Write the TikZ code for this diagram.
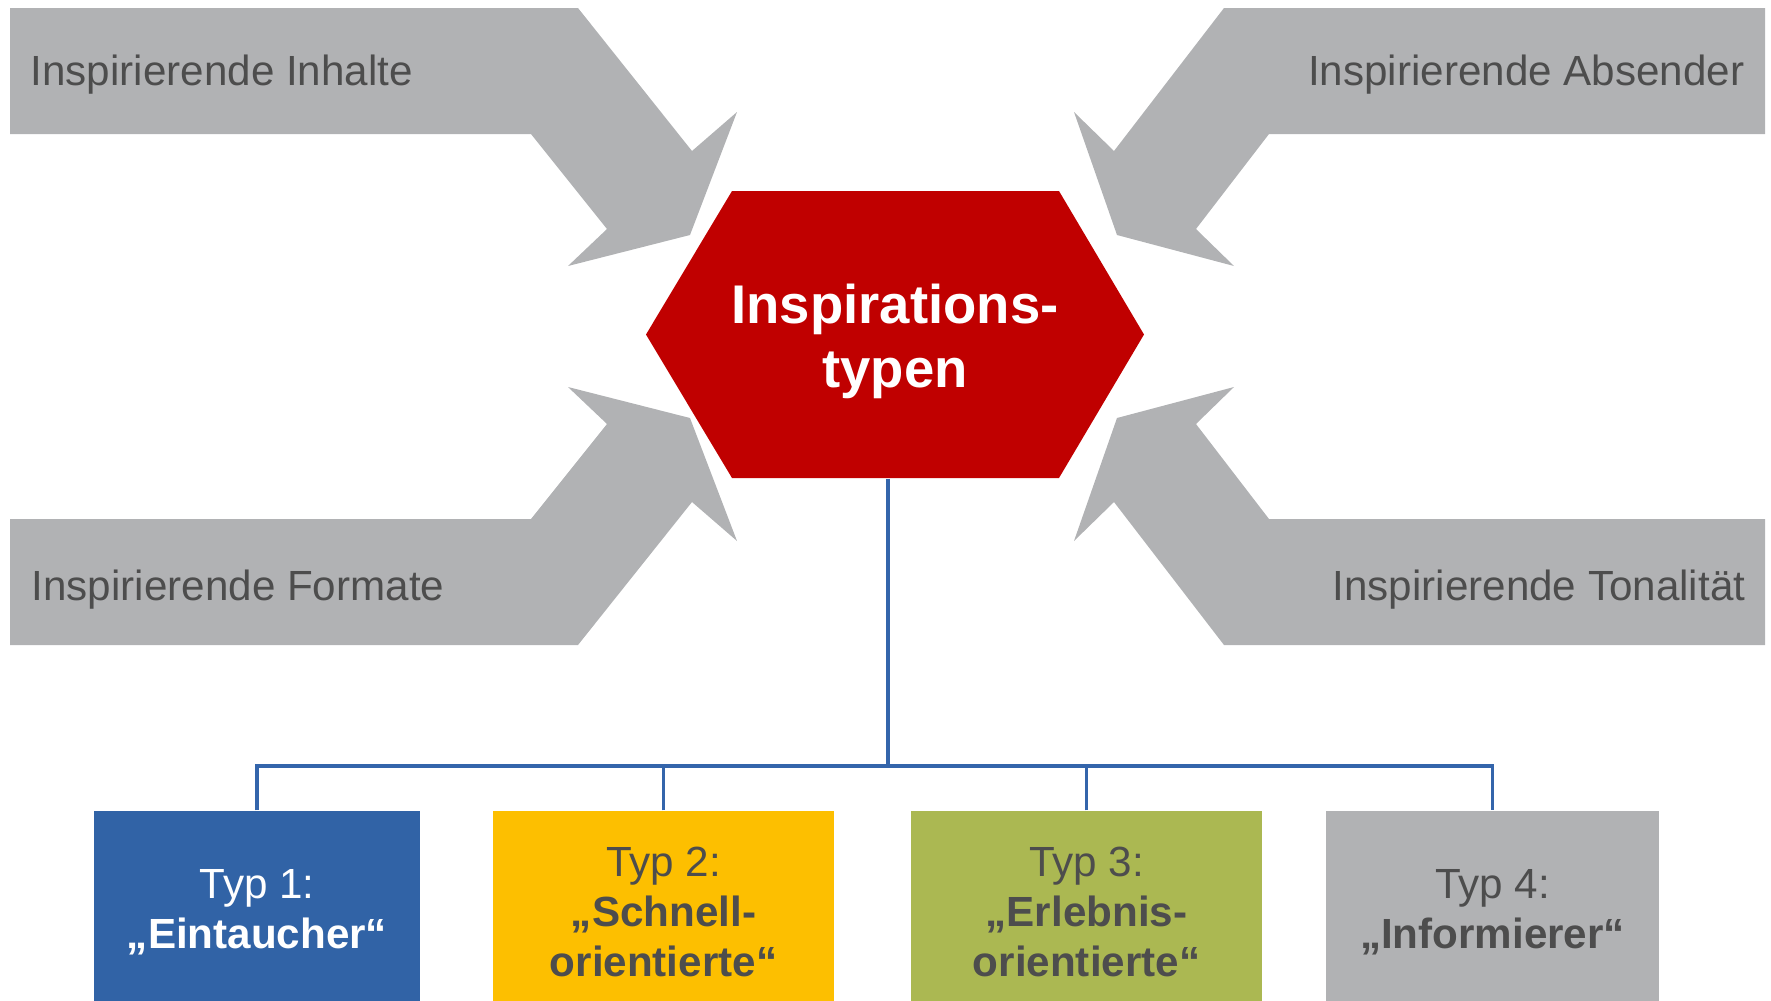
\documentclass[tikz,border=0pt]{standalone}
\usepackage{fontspec}
\setmainfont{Liberation Sans}
\definecolor{arrowgray}{HTML}{B1B2B4}
\definecolor{textgray}{HTML}{4D4D4D}
\definecolor{hubred}{HTML}{C00000}
\definecolor{linkblue}{HTML}{3465AB}
\definecolor{typblue}{HTML}{3163A6}
\definecolor{typyellow}{HTML}{FDBF00}
\definecolor{typgreen}{HTML}{ABB852}
\tikzset{
  feedlabel/.style={text=textgray,inner sep=0pt,font=\fontsize{12}{14.2}\selectfont},
  hubtext/.style={text=white,align=center,inner sep=0pt,minimum width=3.27cm,minimum height=2.74cm,
    font=\fontsize{15.5}{18.2}\selectfont\bfseries},
  typbox/.style={align=center,inner sep=0pt,minimum height=2.02cm,text=textgray,
    font=\fontsize{12}{14.2}\selectfont},
  link/.style={draw=linkblue,line width=1pt}
}

\begin{document}
\begin{tikzpicture}
  \useasboundingbox (0,0) rectangle (17.71,-10.01);
  \fill[arrowgray] (0.10,-0.08) -- (5.78,-0.08) -- (6.92,-1.51) -- (7.37,-1.12) -- (6.90,-2.35)
    -- (5.68,-2.66) -- (6.07,-2.29) -- (5.31,-1.34) -- (0.10,-1.34) -- cycle;
  \fill[arrowgray] (0.10,-6.45) -- (5.78,-6.45) -- (6.92,-5.02) -- (7.37,-5.41) -- (6.90,-4.18)
    -- (5.68,-3.87) -- (6.07,-4.24) -- (5.31,-5.19) -- (0.10,-5.19) -- cycle;
  \fill[arrowgray] (17.65,-0.08) -- (12.24,-0.08) -- (11.14,-1.51) -- (10.74,-1.12) -- (11.17,-2.35)
    -- (12.34,-2.66) -- (11.96,-2.29) -- (12.69,-1.34) -- (17.65,-1.34) -- cycle;
  \fill[arrowgray] (17.65,-6.45) -- (12.24,-6.45) -- (11.14,-5.02) -- (10.74,-5.41) -- (11.17,-4.18)
    -- (12.34,-3.87) -- (11.96,-4.24) -- (12.69,-5.19) -- (17.65,-5.19) -- cycle;
  \node[feedlabel,anchor=base west] (inhalte) at (0.30,-0.85) {Inspirierende Inhalte};
  \node[feedlabel,anchor=base west] (formate) at (0.31,-6.00) {Inspirierende Formate};
  \node[feedlabel,anchor=base east] (absender) at (17.45,-0.85) {Inspirierende Absender};
  \node[feedlabel,anchor=base east] (tonalitaet) at (17.46,-6.00) {Inspirierende Tonalität};

  \fill[hubred] (6.46,-3.345) -- (7.32,-1.91) -- (10.59,-1.91) -- (11.44,-3.345)
    -- (10.59,-4.78) -- (7.32,-4.78) -- cycle;
  \node[hubtext] (hub) at (8.95,-3.41) {Inspirations-\\typen};

  \node[typbox,fill=typblue,text=white,minimum width=3.26cm] (typ1) at (2.57,-9.12)
    {Typ 1:\\\textbf{„Eintaucher“}};
  \node[typbox,fill=typyellow,minimum width=3.41cm] (typ2) at (6.635,-9.12)
    {Typ 2:\\\textbf{„Schnell-}\\\textbf{orientierte“}};
  \node[typbox,fill=typgreen,minimum width=3.51cm] (typ3) at (10.865,-9.12)
    {Typ 3:\\\textbf{„Erlebnis-}\\\textbf{orientierte“}};
  \node[typbox,fill=arrowgray,minimum width=3.33cm] (typ4) at (14.925,-9.12)
    {Typ 4:\\\textbf{„Informierer“}};

  \coordinate (bus) at (8.88,-7.66);
  \draw[link] (bus |- hub.south) -- (bus);
  \draw[link] (typ1.north) |- (bus) -| (typ4.north);
  \foreach \t in {typ2,typ3}
    \draw[link] (\t.north) -- (\t.north |- bus);
\end{tikzpicture}
\end{document}
